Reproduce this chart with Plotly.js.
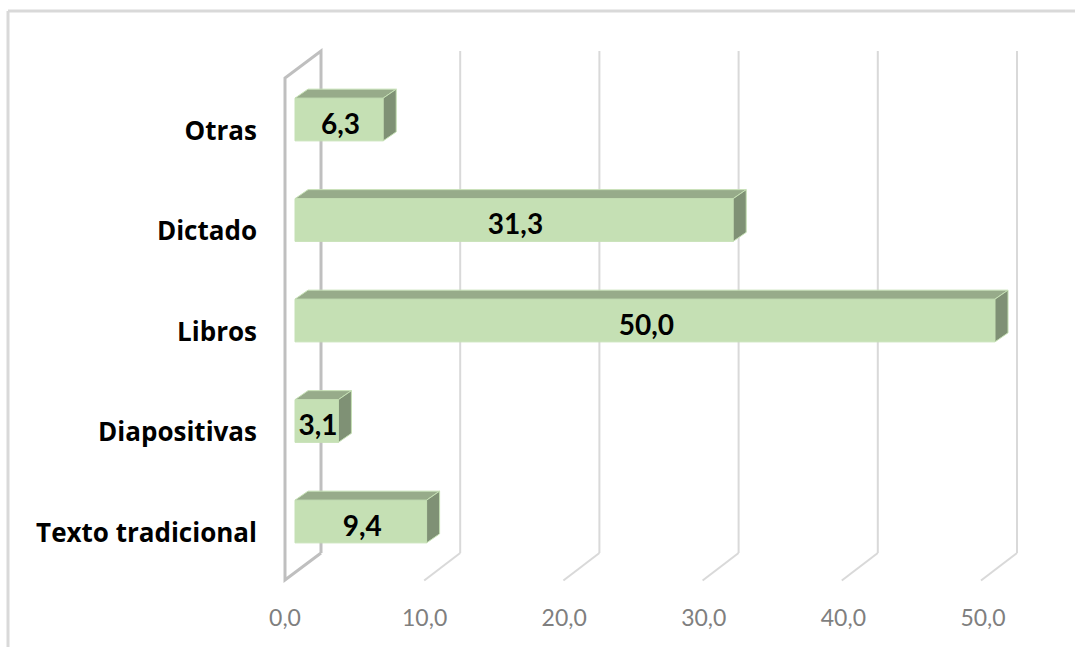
<!DOCTYPE html>
<html><head><meta charset="utf-8">
<script src="https://cdn.plot.ly/plotly-3.0.1.min.js"></script>
<style>html,body{margin:0;padding:0;background:#fff}</style>
</head><body><div id="chart" style="width:1075px;height:647px"></div>
<script>
const categories = ["Texto tradicional","Diapositivas","Libros","Dictado","Otras"];
const values = [9.4,3.1,50.0,31.3,6.3];
const tickValues = [0,10,20,30,40,50];

const W=1075,H=647;
const fx=p=>p/W, fy=p=>1-p/H;
const FRONT='#c5e0b4', TOP='#97ab8a', SIDE='#7f9175';
const barW=0.425, dx=0.93, dy=0.0895;
const comma=v=>v.toFixed(1).replace('.',',');

// bar plane: 0 at 295px, 14px/unit
const L=250,R=1060;
const barRange=[(L-295)/14,(R-295)/14];
// front plane labels: 0 at 285, 50 at 983
const sF=(983-285)/50; const labRange=[(L-285)/sF,(R-285)/sF];
// back plane gridlines: 0 at 321, 50 at 1017
const sB=(1017-321)/50; const gridRange=[(L-321)/sB,(R-321)/sB];
const depthUnits=36/sB;

const topX=[],topY=[],sideX=[],sideY=[];
values.forEach((v,i)=>{
  const a=i+barW/2,b=i-barW/2;
  topX.push(0,v,v+dx,dx,0,null); topY.push(a,a,a+dy,a+dy,a,null);
  sideX.push(v,v+dx,v+dx,v,v,null); sideY.push(a,a+dy,b+dy,b,a,null);
});
const face=(x,y,c)=>({type:'scatter',mode:'lines',x,y,xaxis:'x',yaxis:'y2',fill:'toself',fillcolor:c,
  line:{color:FRONT,width:1},hoverinfo:'skip',showlegend:false});
const traces=[
 {type:'bar',orientation:'h',x:values,y:categories,xaxis:'x',yaxis:'y',width:barW,
  marker:{color:FRONT,line:{color:FRONT,width:1}},showlegend:false,hoverinfo:'x+y'},
 face(topX,topY,TOP),
 face(sideX,sideY,SIDE),
 {type:'scatter',mode:'text',x:values.map(v=>v/2+0.1),y:values.map((v,i)=>i-0.07),xaxis:'x',yaxis:'y2',
  text:values.map(comma),textposition:'middle center',textfont:{family:'Lato',size:28,color:'#000',weight:700},
  showlegend:false,hoverinfo:'skip'},
 {type:'scatter',mode:'markers',x:values,y:categories,xaxis:'x',yaxis:'y3',marker:{opacity:0},showlegend:false,hoverinfo:'skip'},
 {type:'scatter',mode:'markers',x:tickValues,y:tickValues.map(()=>0),xaxis:'x2',yaxis:'y2',marker:{opacity:0},showlegend:false,hoverinfo:'skip'},
 {type:'scatter',mode:'markers',x:tickValues,y:tickValues.map(()=>0),xaxis:'x3',yaxis:'y2',marker:{opacity:0},showlegend:false,hoverinfo:'skip'}
];
const wall='#bfbfbf', grid='#d9d9d9';
const shapes=[
 {type:'line',xref:'paper',yref:'paper',x0:fx(8),x1:fx(8),y0:0,y1:fy(11),line:{color:'#d9d9d9',width:3},layer:'below'},
 {type:'line',xref:'paper',yref:'paper',x0:fx(8),x1:1,y0:fy(11),y1:fy(11),line:{color:'#d9d9d9',width:3},layer:'below'},
 {type:'path',xref:'paper',yref:'paper',path:`M ${fx(321)} ${fy(553)} L ${fx(285)} ${fy(580)} L ${fx(285)} ${fy(78)} L ${fx(321)} ${fy(51)} L ${fx(321)} ${fy(553)}`,line:{color:wall,width:3},layer:'below'}
];
tickValues.slice(1).forEach(t=>{
  shapes.push({type:'line',xref:'x3',yref:'paper',x0:t,x1:t,y0:fy(553),y1:fy(51),line:{color:grid,width:2},layer:'below'});
  shapes.push({type:'line',xref:'x3',yref:'paper',x0:t-depthUnits,x1:t,y0:fy(580.5),y1:fy(553),line:{color:grid,width:2},layer:'below'});
});

const catAxis={range:[-0.5,4.5],type:'category',categoryarray:categories,categoryorder:'array',showgrid:false,zeroline:false,showline:false,ticks:'',fixedrange:true};
const layout={width:W,height:H,margin:{l:0,r:0,t:0,b:0},paper_bgcolor:'#fff',plot_bgcolor:'rgba(0,0,0,0)',
 separators:', ',showlegend:false,shapes,
 xaxis:{domain:[fx(L),fx(R)],range:barRange,anchor:'y',visible:false,fixedrange:true},
 xaxis2:{domain:[fx(L),fx(R)],range:labRange,overlaying:'x',anchor:'free',position:fy(602),tickvals:tickValues,tickformat:'.1f',
   showgrid:false,zeroline:false,showline:false,ticks:'',tickfont:{family:'Lato',size:23,color:'#7f7f7f'},fixedrange:true,side:'bottom'},
 xaxis3:{domain:[fx(L),fx(R)],range:gridRange,overlaying:'x',anchor:'y2',tickvals:tickValues,showticklabels:false,ticks:'',
   showgrid:false,zeroline:false,showline:false,fixedrange:true},
 yaxis:Object.assign({},catAxis,{domain:[fy(571.75),fy(69.25)],anchor:'x',visible:false}),
 yaxis2:{domain:[fy(571.75),fy(69.25)],range:[-0.5,4.5],overlaying:'y',anchor:'x',visible:false,fixedrange:true},
 yaxis3:Object.assign({},catAxis,{domain:[fy(583),fy(80.5)],anchor:'free',position:fx(257),tickfont:{family:'Open Sans',size:26,color:'#000',weight:700}})
};
Plotly.newPlot('chart',traces,layout,{displayModeBar:false,staticPlot:true});
</script></body></html>
